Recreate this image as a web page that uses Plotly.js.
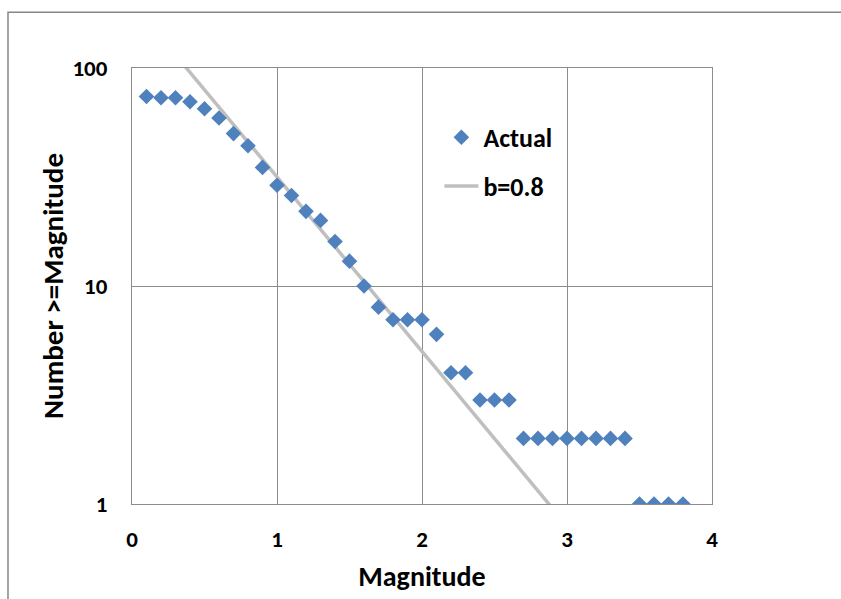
<!DOCTYPE html>
<html><head><meta charset="utf-8">
<script src="https://cdn.plot.ly/plotly-3.0.1.min.js"></script>
<style>html,body{margin:0;padding:0;background:#fff}#c{width:841px;height:599px}</style>
</head><body><div id="c"></div>
<script>
var magnitude = [0.1,0.2,0.3,0.4,0.5,0.6,0.7,0.8,0.9,1.0,1.1,1.2,1.3,1.4,1.5,1.6,1.7,1.8,1.9,2.0,2.1,2.2,2.3,2.4,2.5,2.6,2.7,2.8,2.9,3.0,3.1,3.2,3.3,3.4,3.5,3.6,3.7,3.8];
var actualCount = [74,73,73,70,65,59,50,44,35,29,26,22,20,16,13,10,8,7,7,7,6,4,4,3,3,3,2,2,2,2,2,2,2,2,1,1,1,1];
var fitMagnitude = [0.3, 2.9];
var fitCount = [114.8, 0.955];
var yTickVals = [1, 10, 100];
var yTickText = ['1', '10', '100'];
var xTickVals = [0, 1, 2, 3, 4];

var font = 'Carlito, "Liberation Sans", Arial, sans-serif';
var traces = [
  {x: fitMagnitude, y: fitCount, type: 'scatter', mode: 'lines', name: 'b=0.8', legendgroup: 'b', legendrank: 2,
   line: {color: '#BFBFBF', width: 3.5}},
  {x: magnitude, y: actualCount, type: 'scatter', mode: 'markers', name: 'Actual', legendgroup: 'a', legendrank: 1,
   marker: {symbol: 'diamond', size: 12, color: '#4F81BD'}}
];
var layout = {
  width: 841, height: 599,
  margin: {l: 132, r: 129, t: 68, b: 95},
  paper_bgcolor: '#fff', plot_bgcolor: '#fff',
  font: {family: font, size: 23, color: '#000', weight: 700},
  showlegend: true,
  legend: {x: 0.53, y: 0.895, xanchor: 'left', yanchor: 'top', traceorder: 'grouped',
           tracegroupgap: 12,
           font: {size: 26, family: font, weight: 700, color: '#000'}, bgcolor: 'rgba(0,0,0,0)', itemwidth: 34},
  xaxis: {range: [0, 4], tickvals: xTickVals, showgrid: true, gridcolor: '#8C8C8C', gridwidth: 1,
          zeroline: false, showline: true, linecolor: '#8C8C8C', linewidth: 1, mirror: true,
          ticks: '', ticklabelstandoff: 14, tickfont: {size: 23, family: font, weight: 700, color: '#000'},
          title: {text: 'Magnitude', font: {size: 28, family: font, weight: 700, color: '#000'}, standoff: 14}},
  yaxis: {type: 'log', range: [0, 2], tickvals: yTickVals, ticktext: yTickText, showgrid: true,
          gridcolor: '#8C8C8C', gridwidth: 1, zeroline: false, showline: true, linecolor: '#8C8C8C',
          linewidth: 1, mirror: true, ticks: '', ticklabelstandoff: 19,
          tickfont: {size: 23, family: font, weight: 700, color: '#000'},
          title: {text: 'Number >=Magnitude', font: {size: 29, family: font, weight: 700, color: '#000'}, standoff: 0}},
  shapes: [{type: 'rect', xref: 'paper', yref: 'paper', x0: -0.2138, x1: 1.4, y0: -0.3, y1: 1.128,
            line: {color: '#868686', width: 1.5}, fillcolor: 'rgba(0,0,0,0)', layer: 'below'}]
};
Plotly.newPlot('c', traces, layout, {displayModeBar: false, staticPlot: true});
</script></body></html>
